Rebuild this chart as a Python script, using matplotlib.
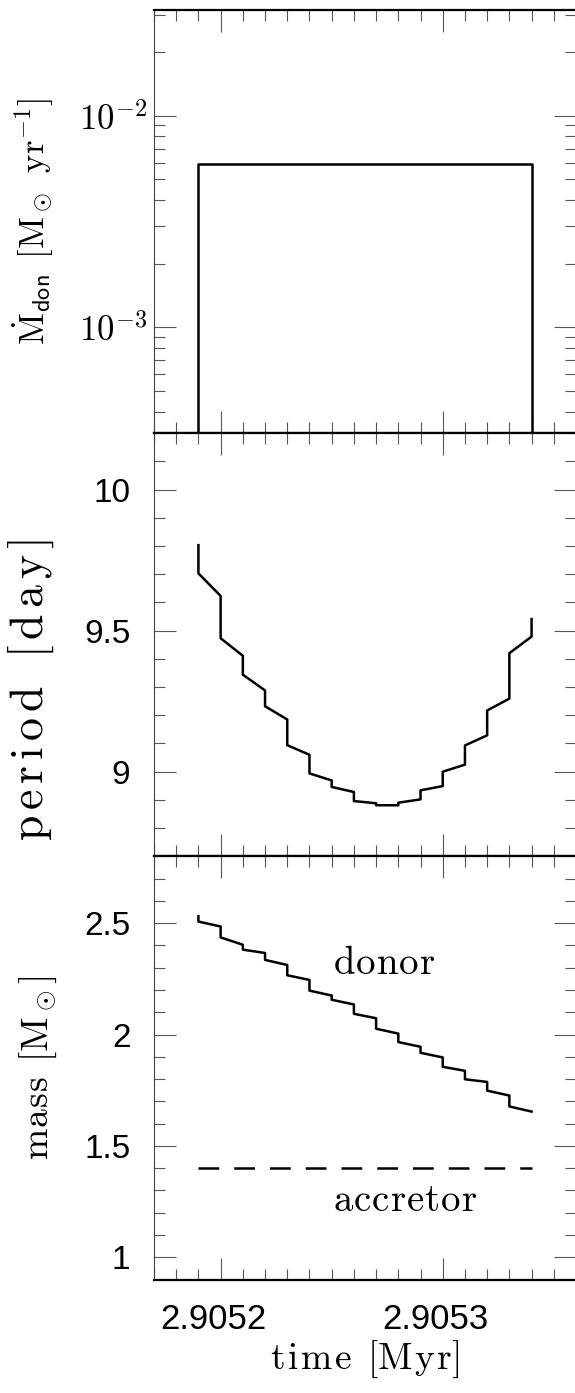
import matplotlib
matplotlib.use("Agg")
import matplotlib.pyplot as plt
import matplotlib.ticker as mticker
import matplotlib.transforms as mtransforms
import numpy as np

plt.rcParams['mathtext.fontset'] = 'cm'
plt.rcParams['font.family'] = ['Liberation Sans', 'DejaVu Sans']

# ---------------- data ----------------
times = [2.90519, 2.90520, 2.90521, 2.90522, 2.90523, 2.90524, 2.90525, 2.90526,
         2.90527, 2.90528, 2.90529, 2.90530, 2.90531, 2.90532, 2.90533, 2.90534]

# mass transfer rate (box)
mdot_t = [2.90519, 2.90519, 2.90534, 2.90534]
mdot_v = [1e-5, 5.9e-3, 5.9e-3, 1e-5]

# period: value just before and just after each step
period_pre = [9.803, 9.623, 9.411, 9.288, 9.185, 9.060, 8.969, 8.928,
              8.888, 8.881, 8.902, 8.949, 9.025, 9.129, 9.259, 9.479]
period_post = [9.703, 9.473, 9.344, 9.232, 9.094, 8.994, 8.946, 8.896,
               8.881, 8.890, 8.934, 9.000, 9.093, 9.217, 9.420, 9.541]

# donor mass: before / after each step
donor_pre = [2.531, 2.485, 2.403, 2.366, 2.312, 2.245, 2.175, 2.135,
             2.073, 2.004, 1.945, 1.897, 1.837, 1.787, 1.726, 1.654]
donor_post = [2.507, 2.436, 2.381, 2.335, 2.266, 2.197, 2.156, 2.093,
              2.026, 1.966, 1.918, 1.855, 1.799, 1.748, 1.677, 1.654]

accretor_t = [2.90519, 2.90534]
accretor_m = [1.4, 1.4]


def zigzag(ts, pre, post):
    xs, ys = [], []
    for t, a, b in zip(ts, pre, post):
        xs += [t, t]
        ys += [a, b]
    return xs, ys


def spaced(s, em, word=0.4):
    sp = r'\hspace{%g}' % em
    out = []
    for ch in s:
        out.append(r'\hspace{%g}' % word if ch == ' ' else ch)
    return sp.join(out)


# ---------------- figure ----------------
W, H = 575, 1393
fig = plt.figure(figsize=(W / 100, H / 100), dpi=100)

left = 154 / W
right = 576 / W
top_px = 10
bot_px = 1279.5
ph = (bot_px - top_px) / 3

axes = []
for i in range(3):
    y0 = 1 - (top_px + (i + 1) * ph) / H
    ax = fig.add_axes([left, y0, right - left, ph / H])
    axes.append(ax)

xlim = (2.905170, 2.905360)
LW = 1.8
LABX = -0.232

for ax in axes:
    ax.set_xlim(*xlim)
    ax.xaxis.set_major_locator(mticker.MultipleLocator(0.0001))
    ax.xaxis.set_minor_locator(mticker.MultipleLocator(0.00001))
    ax.tick_params(which='both', direction='in', top=True, bottom=True,
                   left=True, right=True, color='#555555', width=0.8)
    ax.tick_params(which='major', length=16)
    ax.tick_params(which='minor', length=8)
    ax.spines['right'].set_visible(False)
    ax.spines['left'].set_linewidth(0.8)
    ax.spines['left'].set_color('#444444')
    ax.spines['top'].set_linewidth(1.6)
    ax.spines['bottom'].set_linewidth(1.6)
    ax.tick_params(axis='y', which='major', labelsize=24, pad=17)

# ---- panel 1: Mdot ----
ax1 = axes[0]
ax1.plot(mdot_t, mdot_v, color='black', lw=LW)
ax1.set_yscale('log')
ax1.set_ylim(10 ** -3.5, 10 ** -1.5)
ax1.yaxis.set_major_locator(mticker.LogLocator(base=10, numticks=10))
ax1.yaxis.set_minor_locator(mticker.LogLocator(base=10, subs=np.arange(2, 10), numticks=20))
ax1.yaxis.set_minor_formatter(mticker.NullFormatter())
ax1.yaxis.set_major_formatter(mticker.FuncFormatter(lambda v, p: r'$10^{%d}$' % int(round(np.log10(v)))))
ax1.tick_params(axis='y', which='major', labelsize=25, pad=5)
ax1.set_ylabel(r'$\dot{\mathrm{M}}_{\mathsf{don}}\hspace{0.45}[\mathrm{M}_\odot\hspace{0.45}\mathrm{yr}^{-1}]$',
               fontsize=25)
ax1.yaxis.set_label_coords(LABX, 0.5)

# ---- panel 2: period ----
ax2 = axes[1]
px, py = zigzag(times, period_pre, period_post)
ax2.plot(px, py, color='black', lw=LW)
ax2.set_ylim(8.7, 10.2)
ax2.yaxis.set_major_locator(mticker.FixedLocator([9, 9.5, 10]))
ax2.yaxis.set_major_formatter(mticker.FixedFormatter(['9', '9.5', '10']))
ax2.yaxis.set_minor_locator(mticker.MultipleLocator(0.1))
ax2.set_ylabel(r'$\mathrm{' + spaced('period [day]', 0.15) + '}$', fontsize=33)
ax2.yaxis.set_label_coords(LABX, 0.394)

# ---- panel 3: mass ----
ax3 = axes[2]
mx, my = zigzag(times, donor_pre, donor_post)
ax3.plot(mx, my, color='black', lw=LW)
ax3.plot(accretor_t, accretor_m, color='black', lw=LW, dashes=(8.3, 6.0))
ax3.set_ylim(0.9, 2.8)
ax3.yaxis.set_major_locator(mticker.FixedLocator([1, 1.5, 2, 2.5]))
ax3.yaxis.set_major_formatter(mticker.FixedFormatter(['1', '1.5', '2', '2.5']))
ax3.yaxis.set_minor_locator(mticker.MultipleLocator(0.1))
ax3.set_ylabel(r'$\mathrm{' + spaced('mass', 0.04) + r'\hspace{0.45}[M_\odot]}$', fontsize=27)
ax3.yaxis.set_label_coords(LABX + 0.007, 0.5)
ax3.text(0.545, 0.745, r'$\mathrm{' + spaced('donor', 0.03) + '}$', transform=ax3.transAxes,
         fontsize=28, ha='center', va='center')
ax3.text(0.595, 0.185, r'$\mathrm{' + spaced('accretor', 0.03) + '}$', transform=ax3.transAxes,
         fontsize=28, ha='center', va='center')

for ax in axes[:2]:
    ax.tick_params(axis='x', labelbottom=False)

ax3.xaxis.set_major_formatter(mticker.FuncFormatter(lambda v, p: '%.4f' % v))
ax3.tick_params(axis='x', which='major', labelsize=25, pad=17)
offset = mtransforms.ScaledTranslation(-7 / 100, 0, fig.dpi_scale_trans)
for lab in ax3.get_xticklabels():
    lab.set_transform(lab.get_transform() + offset)
ax3.set_xlabel(r'$\mathrm{' + spaced('time', 0.08) + r'\hspace{0.5}[' + spaced('Myr', 0.08) + ']}$',
               fontsize=27, labelpad=2)

fig.savefig('out.png', dpi=100)
